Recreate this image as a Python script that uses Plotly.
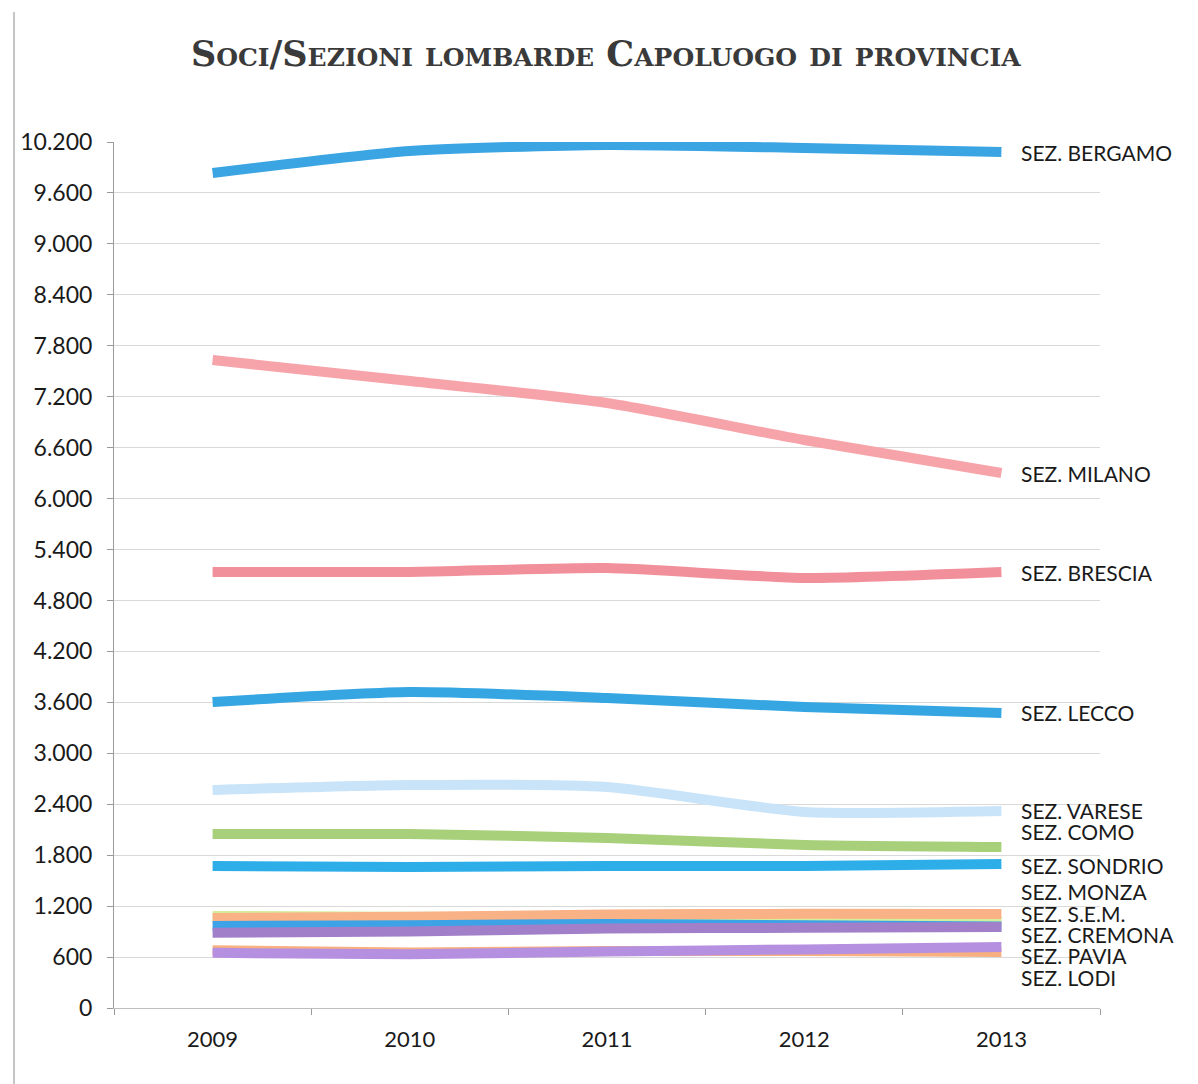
import plotly.graph_objects as go

years = ["2009", "2010", "2011", "2012", "2013"]

bergamo = [9835, 10094, 10165, 10130, 10082]
milano = [7632, 7385, 7126, 6690, 6301]
brescia = [5135, 5135, 5182, 5065, 5135]
lecco = [3604, 3722, 3651, 3545, 3475]
varese = [2568, 2627, 2603, 2309, 2320]
como = [2050, 2050, 2002, 1920, 1896]
sondrio = [1673, 1661, 1673, 1673, 1696]
sem = [1085, 1075, 1060, 1040, 1025]
monza = [1060, 1075, 1100, 1110, 1107]
cremona_blue = [966, 975, 990, 975, 960]
cremona = [887, 900, 935, 945, 954]
lodi = [680, 655, 670, 670, 660]
pavia = [650, 632, 665, 690, 718]

y_ticks = list(range(0, 10201, 600))

# label name, y position (data units) for right-side labels
labels = [
    ("SEZ. BERGAMO", 10082),
    ("SEZ. MILANO", 6290),
    ("SEZ. BRESCIA", 5135),
    ("SEZ. LECCO", 3475),
    ("SEZ. VARESE", 2330),
    ("SEZ. COMO", 2080),
    ("SEZ. SONDRIO", 1684),
    ("SEZ. MONZA", 1378),
    ("SEZ. S.E.M.", 1112),
    ("SEZ. CREMONA", 865),
    ("SEZ. PAVIA", 620),
    ("SEZ. LODI", 360),
]

series = [
    ("SEZ. BERGAMO", bergamo, "#3ba4e3"),
    ("SEZ. MILANO", milano, "#f7a3aa"),
    ("SEZ. BRESCIA", brescia, "#f1909a"),
    ("SEZ. LECCO", lecco, "#35a6e2"),
    ("SEZ. VARESE", varese, "#c9e4f8"),
    ("SEZ. COMO", como, "#a8d07a"),
    ("SEZ. SONDRIO", sondrio, "#2eaee9"),
    ("SEZ. S.E.M.", sem, "#d4ee9c"),
    ("SEZ. MONZA", monza, "#f9b286"),
    ("SEZ. MANTOVA", cremona_blue, "#3da2e6"),
    ("SEZ. CREMONA", cremona, "#a280c9"),
    ("SEZ. LODI", lodi, "#f8b080"),
    ("SEZ. PAVIA", pavia, "#b690e0"),
]

fig = go.Figure()
for name, vals, col in series:
    fig.add_trace(go.Scatter(
        x=years, y=vals, name=name, mode="lines",
        line=dict(color=col, width=10, shape="spline", smoothing=0.6),
        showlegend=False,
    ))

last_idx = len(years) - 1
for name, yv in labels:
    fig.add_annotation(
        x=last_idx, y=yv, xref="x", yref="y", text=name, showarrow=False,
        xanchor="left", yanchor="middle", xshift=18,
        font=dict(family="Lato, Open Sans, sans-serif", size=21, color="#1a1a1a"),
    )

fig.update_layout(
    width=1198, height=1084,
    margin=dict(l=106, r=106, t=134, b=84),
    paper_bgcolor="white", plot_bgcolor="white",
    separators=",.",
    title=dict(
        text="<b>Soci/Sezioni lombarde Capoluogo di provincia</b>",
        x=0.499, xanchor="center", y=0.958, yanchor="middle",
        font=dict(family="DejaVu Serif, Liberation Serif, serif", size=35,
                  color="#3a3a3a", variant="small-caps"),
    ),
    xaxis=dict(
        type="category", range=[-0.5, 4.5],
        showgrid=False, showline=True, linecolor="#bfbfbf", linewidth=1,
        ticks="outside", tickson="boundaries", ticklen=6, tickcolor="#9a9a9a",
        tickfont=dict(family="Lato, Open Sans, sans-serif", size=22, color="#1a1a1a"),
        ticklabelstandoff=12,
    ),
    yaxis=dict(
        range=[0, 10200], tickvals=y_ticks, tickformat=",d",
        showgrid=True, gridcolor="#d9d9d9", gridwidth=1,
        showline=True, linecolor="#9a9a9a", linewidth=1,
        ticks="outside", ticklen=6, tickcolor="#9a9a9a",
        tickfont=dict(family="Lato, Open Sans, sans-serif", size=23, color="#1a1a1a"),
        ticklabelstandoff=10,
        zeroline=False,
    ),
)

fig.add_shape(type="line", xref="paper", yref="paper",
              x0=-100/986, x1=-100/986, y0=-0.09, y1=1.15,
              line=dict(color="#8a8a8a", width=1))

fig.write_html("out.html")
